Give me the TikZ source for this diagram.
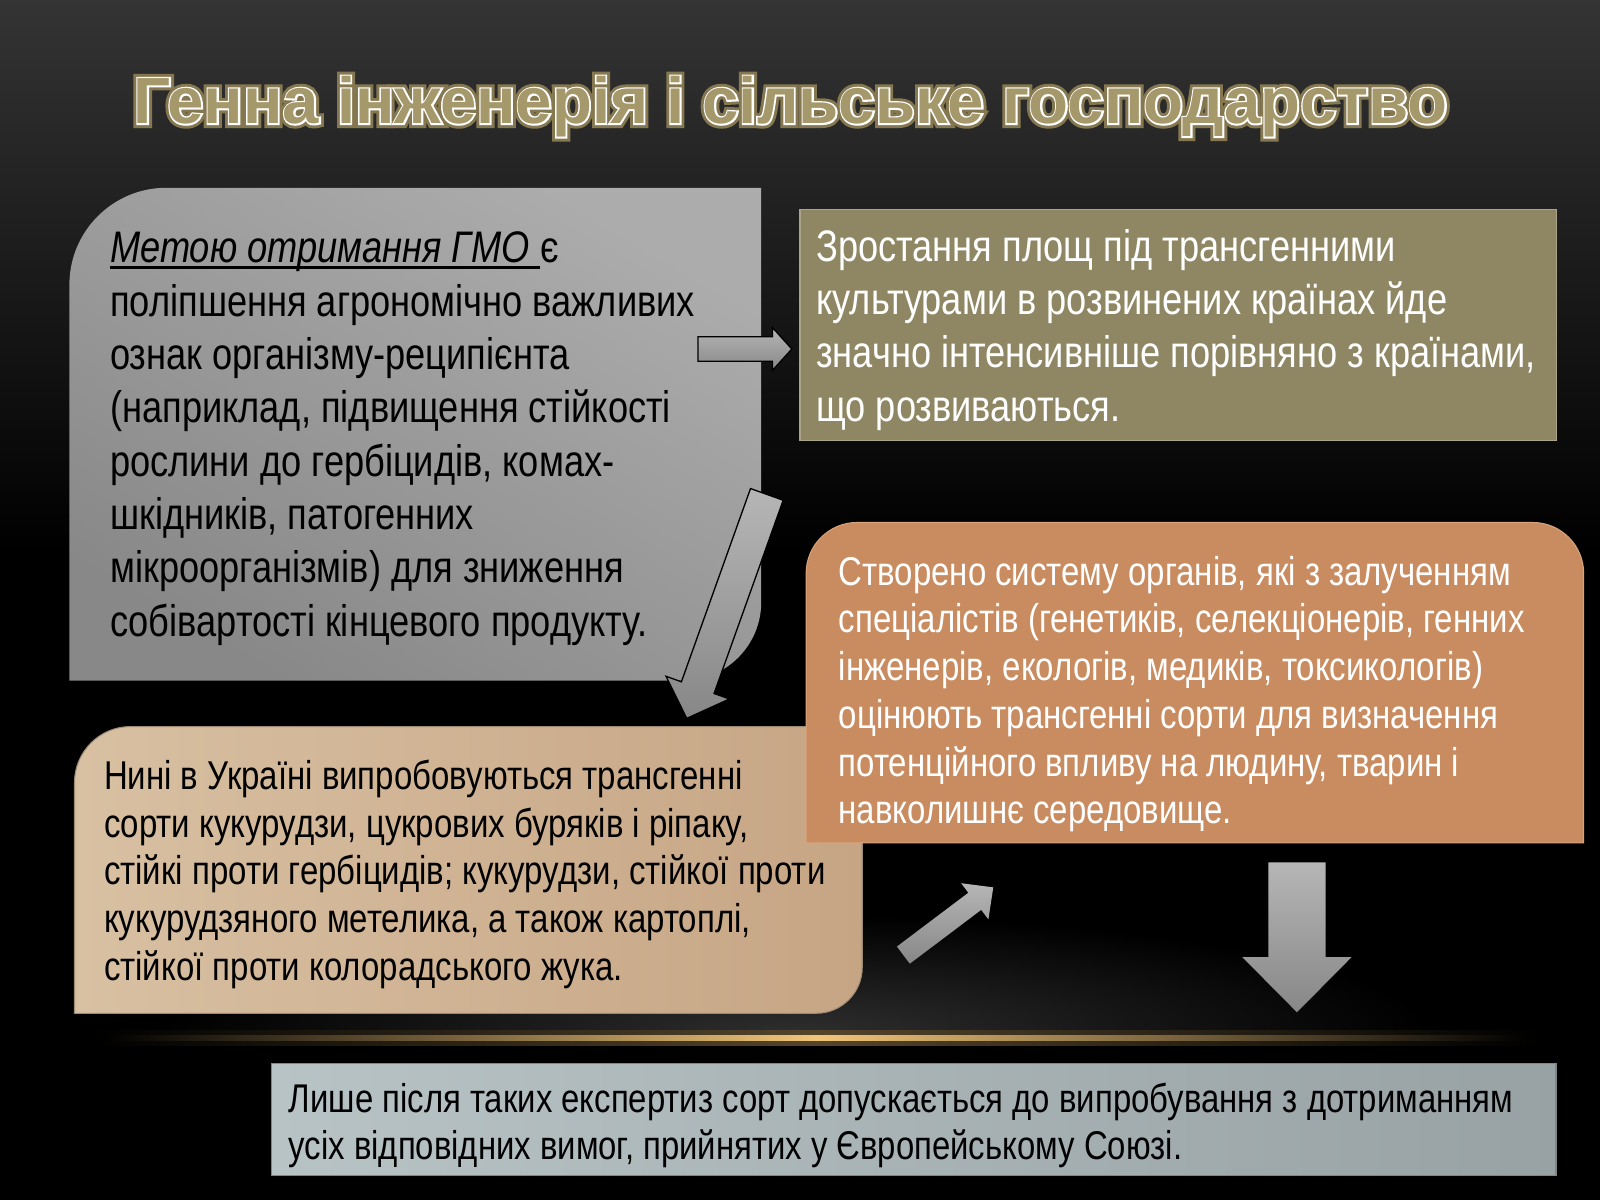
\documentclass[tikz,border=0pt]{standalone}
\usepackage{fontspec}
\setmainfont{Liberation Sans}
\newfontfamily\fbody[FakeStretch=0.82]{Liberation Sans}
\newfontfamily\tfOut[FakeBold=14]{Liberation Sans Bold}
\newfontfamily\tfMid[FakeBold=5]{Liberation Sans Bold}
\newfontfamily\tfIn{Liberation Sans Bold}
\usetikzlibrary{calc}
\definecolor{bgTop}{HTML}{343434}
\definecolor{grayA}{HTML}{ACACAC}
\definecolor{grayB}{HTML}{888888}
\definecolor{oliveBox}{HTML}{8F8763}
\definecolor{oliveEdge}{HTML}{ABA488}
\definecolor{orangeBox}{HTML}{C98C60}
\definecolor{orangeEdge}{HTML}{D9A47C}
\definecolor{peachA}{HTML}{D8C0A2}
\definecolor{peachB}{HTML}{C6A584}
\definecolor{peachEdge}{HTML}{9C8A74}
\definecolor{botA}{HTML}{B8C3C6}
\definecolor{botB}{HTML}{98A2A4}
\definecolor{botEdge}{HTML}{7E8688}
\definecolor{arrA}{HTML}{B6B6B6}
\definecolor{arrB}{HTML}{878787}
\definecolor{goldL}{HTML}{F2C57A}
\definecolor{tOut}{HTML}{857850}
\definecolor{tIn}{HTML}{A5986B}
\tikzset{
  txt/.style={anchor=base west, inner sep=0pt, outer sep=0pt},
  ttl/.style={anchor=base west, inner sep=0pt, outer sep=0pt},
  garrow/.style={top color=arrA, bottom color=arrB},
  oarrow/.style={top color=arrA, bottom color=arrB, draw=black, line width=1.3pt, line join=miter},
}
\newcommand\myul[1]{\leavevmode\setbox0\hbox{#1}\rlap{\rule[-6pt]{\wd0}{2.5pt}}\box0}
\newcommand\boxtext[3]{\parbox[t]{1500pt}{\raggedright\fontsize{#1}{#2}\selectfont #3}}
\newcommand\titletext{\fontsize{64}{70}\selectfont Генна інженерія і сільське господарство}
% block arrow: tail, tip, half shaft, half head, head length, style
\newcommand\blockarrow[6]{%
  \coordinate (#1-hb) at ($(#2)!#5!(#1)$);
  \path[#6] ($(#1)!#3!90:(#2)$) -- ($(#1-hb)!#3!90:(#2)$) -- ($(#1-hb)!#4!90:(#2)$) -- (#2)
     -- ($(#1-hb)!#4!-90:(#2)$) -- ($(#1-hb)!#3!-90:(#2)$) -- ($(#1)!#3!-90:(#2)$) -- cycle;
}
\begin{document}
\begin{tikzpicture}[x=1pt,y=-1pt]
\useasboundingbox (0,0) rectangle (1568,1176);
% background
\fill[black] (0,0) rectangle (1568,1176);
\shade[top color=bgTop, bottom color=black] (0,0) rectangle (1568,540);
\begin{scope}
  \clip (0,700) rectangle (1568,1012);
  \shade[inner color=black!82, outer color=black] (780,1012) ellipse (620 and 115);
\end{scope}
\shade[left color=black, right color=black, middle color=goldL!35!black] (90,1010) rectangle (1510,1025);
\shade[left color=black, right color=black, middle color=goldL] (100,1015) rectangle (1500,1020);

% title
\coordinate (tpos) at (131,121);
\node[ttl, text=tOut] (titleout) at (tpos) {\tfOut\titletext};
\node[ttl, text=white] (titlemid) at (tpos) {\tfMid\titletext};
\node[ttl, text=tIn] (title) at (tpos) {\tfIn\titletext};

% gray box
\path[top color=grayA, bottom color=grayB, shading angle=-30]
  (68,667) -- (68,279) .. controls (68,226.6) and (110.6,184) .. (163,184)
  -- (746,184) -- (746,590) .. controls (746,632.5) and (711.5,667) .. (669,667) -- cycle;
\node[txt] (goal) at (108,257.5) {\boxtext{43.3}{52.3}{\fbody
  \myul{\textit{Метою отримання ГМО }}є\\
  поліпшення агрономічно важливих\\
  ознак організму-реципієнта\\
  (наприклад, підвищення стійкості\\
  рослини до гербіцидів, комах-\\
  шкідників, патогенних\\
  мікроорганізмів) для зниження\\
  собівартості кінцевого продукту.}};

% olive box
\path[fill=oliveBox, draw=oliveEdge, line width=1.2pt] (784,205) rectangle (1525,432);
\node[txt, text=white] (growth) at (800,256) {\boxtext{43.3}{52.3}{\fbody
  Зростання площ під трансгенними\\
  культурами в розвинених країнах йде\\
  значно інтенсивніше порівняно з країнами,\\
  що розвиваються.}};

% peach box
\path[left color=peachA, right color=peachB, draw=peachEdge, line width=1pt]
  (73,993) -- (73,767) .. controls (73,736.6) and (97.6,712) .. (128,712)
  -- (845,712) -- (845,948) .. controls (845,972.8) and (824.8,993) .. (800,993) -- cycle;
\node[txt] (ukraine) at (102,773.5) {\boxtext{39.4}{46.8}{\fbody
  Нині в Україні випробовуються трансгенні\\
  сорти кукурудзи, цукрових буряків і ріпаку,\\
  стійкі проти гербіцидів; кукурудзи, стійкої проти\\
  кукурудзяного метелика, а також картоплі,\\
  стійкої проти колорадського жука.}};

% orange box
\path[fill=orangeBox, draw=orangeEdge, line width=1pt]
  (790,826) -- (790,562) .. controls (790,534.4) and (812.4,512) .. (840,512)
  -- (1502,512) .. controls (1529.6,512) and (1552,534.4) .. (1552,562) -- (1552,826) -- cycle;
\node[txt, text=white] (system) at (822,573.5) {\boxtext{39.4}{46.8}{\fbody
  Створено систему органів, які з залученням\\
  спеціалістів (генетиків, селекціонерів, генних\\
  інженерів, екологів, медиків, токсикологів)\\
  оцінюють трансгенні сорти для визначення\\
  потенційного впливу на людину, тварин і\\
  навколишнє середовище.}};

% bottom box
\path[left color=botA, right color=botB, draw=botEdge, line width=1.5pt] (266,1042) rectangle (1525,1152);
\node[txt] (expert) at (283,1090.5) {\boxtext{39.3}{46}{\fbody
  Лише після таких експертиз сорт допускається до випробування з дотриманням\\
  усіх відповідних вимог, прийнятих у Європейському Союзі.}};

% arrows
\coordinate (ra) at (684,342); \coordinate (ra2) at (776,342);
\blockarrow{ra}{ra2}{12pt}{21pt}{19pt}{oarrow}
\coordinate (da) at (751.5,484.5); \coordinate (da2) at (673,704);
\blockarrow{da}{da2}{17pt}{33pt}{32pt}{oarrow}
\coordinate (ua) at (885.3,936); \coordinate (ua2) at (973.4,869.6);
\blockarrow{ua}{ua2}{10.5pt}{22.2pt}{22.7pt}{garrow}
\coordinate (ba) at (1271,845); \coordinate (ba2) at (1271,992);
\blockarrow{ba}{ba2}{28pt}{53.5pt}{54pt}{garrow}
\end{tikzpicture}
\end{document}
